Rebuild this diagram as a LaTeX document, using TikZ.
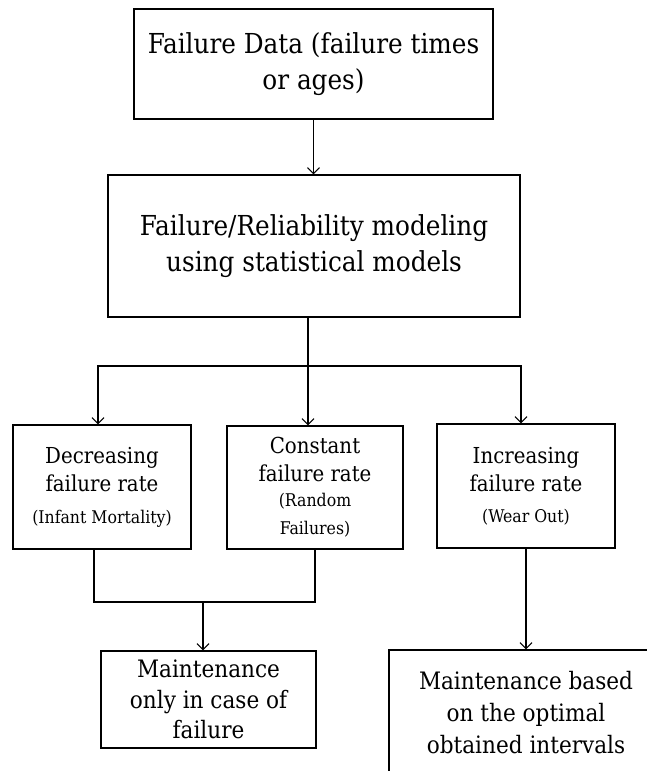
\documentclass[tikz,border=0pt]{standalone}
\usepackage{fontspec}
\setmainfont{DejaVu Serif Condensed}
\usetikzlibrary{arrows.meta}
\newcommand\sidenote[1]{{\fontsize{17.5}{22}\selectfont #1}}
\begin{document}
\begin{tikzpicture}[x=1pt,y=-1pt,
  box/.style={draw, line width=1.2pt, inner sep=0pt, align=center},
  link/.style={line width=1.2pt},
  flow/.style={link, -{Straight Barb[length=6pt,width=12pt,line width=1.1pt]}},
  big/.style={font=\fontsize{27.5}{35.5}\selectfont},
  mid/.style={font=\fontsize{22}{28}\selectfont}]
\clip (0,0) rectangle (647,771);
\fill[white] (0,0) rectangle (647,771);

% boxes
\node[box, big, minimum width=359pt, minimum height=110pt] (data) at (313.5,64)
  {Failure Data (failure times\\or ages)};
\node[box, big, minimum width=412pt, minimum height=142pt] (model) at (314,246)
  {Failure/Reliability modeling\\using statistical models};
\node[box, mid, minimum width=178pt, minimum height=124pt] (dec) at (102,487)
  {Decreasing\\failure rate\\[4pt]\sidenote{(Infant Mortality)}};
\node[box, mid, minimum width=176pt, minimum height=123pt] (cst) at (315,487.5)
  {Constant\\failure rate\\[-3pt]\sidenote{(Random}\\\sidenote{Failures)}};
\node[box, mid, minimum width=178pt, minimum height=124pt] (inc) at (526,486)
  {Increasing\\failure rate\\[3pt]\sidenote{(Wear Out)}};
\node[box, font=\fontsize{24}{30.5}\selectfont, minimum width=215pt, minimum height=97pt] (fail) at (208.5,699.5)
  {Maintenance\\only in case of\\failure};
\node[box, font=\fontsize{24}{32}\selectfont, minimum width=274pt, minimum height=126pt] (opt) at (526,713)
  {Maintenance based\\on the optimal\\obtained intervals};

% connectors
\draw[flow] (data.south) -- (data.south |- model.north);

\coordinate (hub) at (308,366);
\coordinate (busL) at (98,366);
\coordinate (busR) at (521,366);
\draw[link] (hub |- model.south) -- (hub);
\draw[flow] (hub) -| (dec.north -| busL);
\draw[flow] (hub) -| (inc.north -| busR);
\draw[flow] (hub) -- (hub |- cst.north);

\coordinate (joinL) at (94,602);
\coordinate (joinR) at (315,602);
\coordinate (drop) at (203,602);
\draw[link] (dec.south -| joinL) -- (joinL) -- (joinR) -- (cst.south -| joinR);
\draw[flow] (drop) -- (drop |- fail.north);

\draw[flow] (inc.south) -- (inc.south |- opt.north);
\end{tikzpicture}
\end{document}
